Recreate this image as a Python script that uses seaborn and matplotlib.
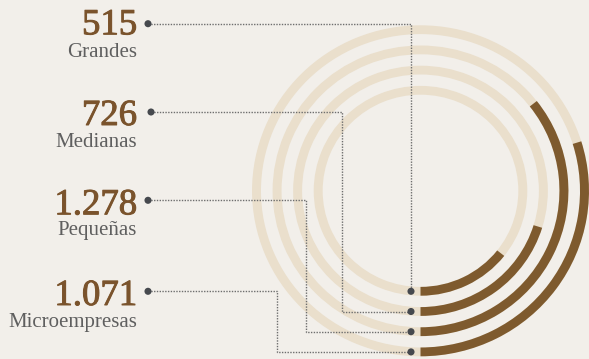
import numpy as np
import matplotlib
matplotlib.use("Agg")
import matplotlib.pyplot as plt
import matplotlib.patheffects as pe
import seaborn as sns

# Companies by size
categories = ["Grandes", "Medianas", "Pequeñas", "Microempresas"]
values = [515, 726, 1278, 1071]

W, H, DPI = 589, 359, 100
BG = "#f2efea"
LIGHT = "#eadfcc"
DARK = "#7e5a2e"
NUM_COLOR = "#7a532c"
LABEL_COLOR = "#5f5f5f"
DOT_COLOR = "#46494e"
LINE_COLOR = "#6e6e6e"

sns.set_theme(style="white", rc={"figure.facecolor": BG, "axes.facecolor": BG,
                                 "savefig.facecolor": BG})
plt.rcParams["font.family"] = ["Liberation Serif", "DejaVu Serif"]

fig = plt.figure(figsize=(W / DPI, H / DPI), dpi=DPI)

# ring geometry (pixels)
cx, cy = 420.5, 190.8
r_inner, r_step, thick = 100.5, 20.2, 8.8
stretch = 1.018
r_lim = 175.0

ax = fig.add_axes([(cx - r_lim * stretch) / W, 1 - (cy + r_lim) / H,
                   2 * r_lim * stretch / W, 2 * r_lim / H], projection="polar")
ax.set_theta_zero_location("S")
ax.set_theta_direction(1)
ax.set_ylim(0, r_lim)
ax.set_aspect("auto")
ax.set_axis_off()

total = sum(values)
radii = [r_inner + i * r_step for i in range(len(values))]
for r, v in zip(radii, values):
    ax.bar(0, thick, width=2 * np.pi, bottom=r - thick / 2, align="edge",
           color=LIGHT, linewidth=0)
    ax.bar(0, thick, width=v / total * 2 * np.pi, bottom=r - thick / 2,
           align="edge", color=DARK, linewidth=0)

# overlay in pixel coordinates for labels and leader lines
ov = fig.add_axes([0, 0, 1, 1])
ov.set_xlim(0, W)
ov.set_ylim(H, 0)
ov.set_axis_off()

text_x = 137
num_y = [34.3, 125, 214.3, 305]
label_y = [57, 146.7, 235.5, 326.7]
dot_x = [148, 151, 148, 148]
dot_y = [23.7, 112, 200.3, 291.3]
elbow_x = [411, 342.3, 305.7, 276.7]
ring_dot_x = 411

ring_y = [cy + r for r in radii]
for i, (cat, v) in enumerate(zip(categories, values)):
    ov.text(text_x, num_y[i], f"{v:,}".replace(",", "."), ha="right",
            va="baseline", fontsize=26.5, color=NUM_COLOR,
            path_effects=[pe.withStroke(linewidth=0.7, foreground=NUM_COLOR)])
    ov.text(text_x, label_y[i], cat, ha="right", va="baseline",
            fontsize=15, color=LABEL_COLOR)
    xs = [dot_x[i], elbow_x[i], elbow_x[i], ring_dot_x]
    ys = [dot_y[i], dot_y[i], ring_y[i], ring_y[i]]
    ov.plot(xs, ys, color=LINE_COLOR, lw=1.0, ls=(0, (1, 1)), zorder=3)

sns.scatterplot(x=dot_x + [ring_dot_x] * 4, y=dot_y + ring_y, ax=ov,
                s=26, color=DOT_COLOR, edgecolor="none", zorder=5, legend=False)
ov.set_xlim(0, W)
ov.set_ylim(H, 0)
ov.set_axis_off()

fig.savefig("out.png", dpi=DPI, facecolor=BG)
